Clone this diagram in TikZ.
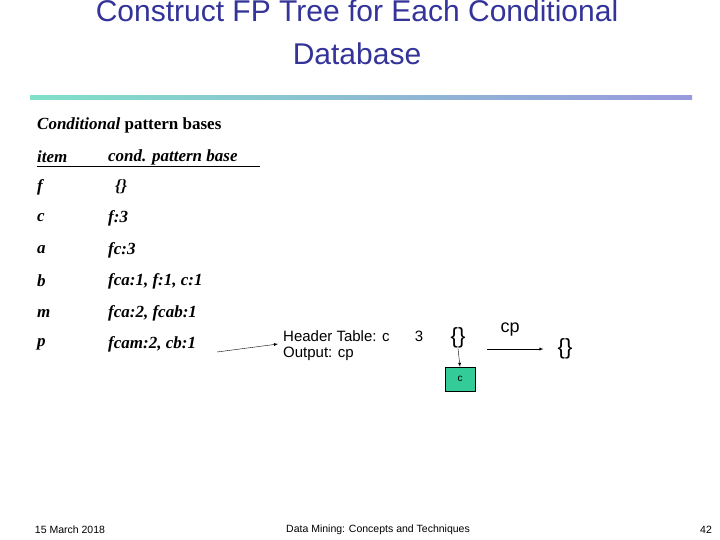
\documentclass[tikz,border=0pt]{standalone}
\usepackage{fontspec}
\setmainfont{Liberation Serif}
\setsansfont{Liberation Sans}
\begin{document}
\begin{tikzpicture}[x=1pt,y=-1pt,
  tt/.style={anchor=west,inner sep=0,font=\fontsize{17}{19}\selectfont\bfseries\itshape},
  ss/.style={inner sep=0,font=\sffamily\fontsize{15}{17}\selectfont},
  ft/.style={inner sep=0,font=\sffamily\fontsize{10.5}{12}\selectfont},
  arr/.style={-latex,thin}]
\useasboundingbox (0,0) rectangle (720,540);
\definecolor{titlec}{HTML}{333399}
\node[inner sep=0,text=titlec,font=\sffamily\fontsize{30}{32}\selectfont] (t1) at (357,11) {Construct FP Tree for Each Conditional};
\node[inner sep=0,text=titlec,font=\sffamily\fontsize{30}{32}\selectfont] (t2) at (357,54) {Database};
\shade[left color={rgb,255:red,128;green,224;blue,200},right color={rgb,255:red,153;green,153;blue,221}] (30,95.5) rectangle (692,99.5);
\node[anchor=west,inner sep=0,font=\fontsize{17}{19}\selectfont\bfseries] (h) at (37,125) {\textit{Conditional} pattern bases};
\node[tt] (i0) at (37,157) {item};
\node[tt] (p0) at (108,157) {cond. pattern base};
\draw (37,166) -- (260,166);
\node[tt] (i1) at (37,187) {f};   \node[tt] (p1) at (115,187) {\{\}};
\node[tt] (i2) at (37,218) {c};   \node[tt] (p2) at (108,218) {f:3};
\node[tt] (i3) at (37,250) {a};   \node[tt] (p3) at (108,250) {fc:3};
\node[tt] (i4) at (37,281) {b};   \node[tt] (p4) at (108,281) {fca:1, f:1, c:1};
\node[tt] (i5) at (37,313) {m};   \node[tt] (p5) at (108,313) {fca:2, fcab:1};
\node[tt] (i6) at (37,344) {p};   \node[tt] (p6) at (108,344) {fcam:2, cb:1};
\node[ss,anchor=west] (ht) at (283,336) {Header Table: c};
\node[ss] (three) at (419,336) {3};
\node[ss,anchor=west] (out) at (283,354) {Output: cp};
\coordinate (a1) at (217,352);
\draw[arr] (a1) -- ([xshift=-5pt,yshift=10pt]out.west);
\node[inner sep=0,font=\sffamily\fontsize{22}{24}\selectfont] (r1) at (458,338) {\{\}};
\node[draw,fill={rgb,255:red,51;green,204;blue,153},minimum width=30,minimum height=24,inner sep=0,font=\sffamily\fontsize{10}{12}\selectfont] (c) at (460,379) {c};
\draw[arr] (r1.south) -- (c.north);
\node[inner sep=0,font=\sffamily\fontsize{18}{20}\selectfont] (cp) at (510,330) {cp};
\node[inner sep=0,font=\sffamily\fontsize{22}{24}\selectfont] (r2) at (565,349) {\{\}};
\coordinate (b1) at (487,349);
\draw[arr] (b1) -- ([xshift=-14pt]r2.west);
\node[ft] (f1) at (70,530) {15 March 2018};
\node[ft] (f2) at (378,530) {Data Mining: Concepts and Techniques};
\node[ft] (f3) at (706,530) {42};
\end{tikzpicture}
\end{document}
